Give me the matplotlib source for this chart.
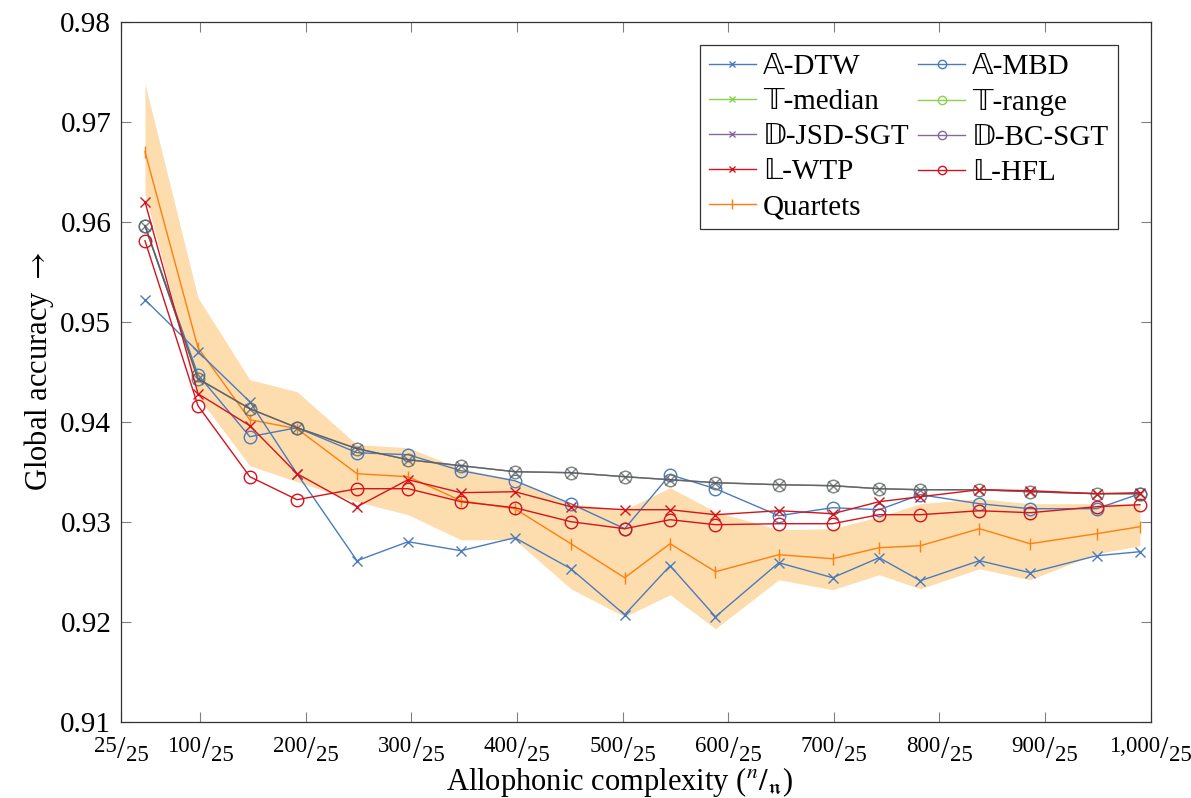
import matplotlib
matplotlib.use("Agg")
import matplotlib.pyplot as plt
import matplotlib.transforms as mtransforms
from matplotlib.lines import Line2D

plt.rcParams['font.family'] = ['Liberation Serif', 'DejaVu Sans']
plt.rcParams['mathtext.fontset'] = 'stix'

# ---- data -------------------------------------------------------------
n_values = [47.7, 97.9, 147, 191.7, 248.5, 296.9, 347, 398, 451, 502,
            545, 588, 648, 699, 743, 782, 838, 886, 949, 990]

a_dtw = [0.9522, 0.9470, 0.9420, 0.9348, 0.9261, 0.9280, 0.9271, 0.9284, 0.9253, 0.9207,
         0.9256, 0.9205, 0.9259, 0.9244, 0.9264, 0.9241, 0.9261, 0.9249, 0.9266, 0.9270]
a_mbd = [0.9596, 0.9447, 0.9385, 0.9394, 0.9369, 0.9367, 0.9351, 0.9341, 0.9318, 0.9293,
         0.9347, 0.9333, 0.9306, 0.9314, 0.9312, 0.9327, 0.9318, 0.9313, 0.9313, 0.9328]
t_median = [0.9596, 0.9443, 0.9413, 0.9394, 0.9373, 0.9362, 0.9356, 0.9350, 0.9349, 0.9345,
            0.9342, 0.9339, 0.9337, 0.9336, 0.9333, 0.9332, 0.9332, 0.9330, 0.9328, 0.9328]
t_range = [0.9596, 0.9443, 0.9413, 0.9394, 0.9373, 0.9362, 0.9356, 0.9350, 0.9349, 0.9345,
           0.9342, 0.9339, 0.9337, 0.9336, 0.9333, 0.9332, 0.9332, 0.9330, 0.9328, 0.9328]
d_jsd_sgt = [0.9596, 0.9443, 0.9413, 0.9394, 0.9373, 0.9362, 0.9356, 0.9350, 0.9349, 0.9345,
             0.9342, 0.9339, 0.9337, 0.9336, 0.9333, 0.9332, 0.9332, 0.9330, 0.9328, 0.9328]
d_bc_sgt = [0.9596, 0.9443, 0.9413, 0.9394, 0.9373, 0.9362, 0.9356, 0.9350, 0.9349, 0.9345,
            0.9342, 0.9339, 0.9337, 0.9336, 0.9333, 0.9332, 0.9332, 0.9330, 0.9328, 0.9328]
l_wtp = [0.9620, 0.9428, 0.9396, 0.9348, 0.9315, 0.9342, 0.9329, 0.9330, 0.9315, 0.9312,
         0.9312, 0.9307, 0.9311, 0.9308, 0.9320, 0.9325, 0.9332, 0.9331, 0.9328, 0.9329]
l_hfl = [0.9581, 0.9416, 0.9345, 0.9322, 0.9333, 0.9333, 0.9320, 0.9314, 0.9300, 0.9293,
         0.9302, 0.9297, 0.9298, 0.9298, 0.9307, 0.9307, 0.9311, 0.9309, 0.9315, 0.9317]
quartets = [0.9670, 0.9474, 0.9402, 0.9393, 0.9348, 0.9345, 0.9321, 0.9313, 0.9278, 0.9244,
            0.9278, 0.9250, 0.9267, 0.9263, 0.9274, 0.9276, 0.9293, 0.9278, 0.9288, 0.9295]
quartets_hi = [0.9738, 0.9524, 0.9442, 0.9430, 0.9377, 0.9374, 0.9353, 0.9342, 0.9318, 0.9312,
               0.9334, 0.9310, 0.9292, 0.9293, 0.9305, 0.9318, 0.9323, 0.9318, 0.9318, 0.9318]
quartets_lo = [0.9628, 0.9425, 0.9356, 0.9340, 0.9320, 0.9307, 0.9282, 0.9282, 0.9233, 0.9205,
               0.9227, 0.9193, 0.9242, 0.9232, 0.9247, 0.9233, 0.9253, 0.9242, 0.9268, 0.9276]

xtick_values = [25, 100, 200, 300, 400, 500, 600, 700, 800, 900, 1000]
xtick_numerators = ["25", "100", "200", "300", "400", "500", "600", "700", "800", "900", "1,000"]
xtick_denominator = "25"
ytick_values = [0.91, 0.92, 0.93, 0.94, 0.95, 0.96, 0.97, 0.98]

legend_labels = ["\U0001D538-DTW", "\U0001D54B-median", "\U0001D53B-JSD-SGT", "\U0001D543-WTP",
                 "Quartets",
                 "\U0001D538-MBD", "\U0001D54B-range", "\U0001D53B-BC-SGT", "\U0001D543-HFL"]

# ---- style ------------------------------------------------------------
BLUE = '#4a7cbd'
GREEN = '#86d24a'
PURPLE = '#85689f'
RED = '#d3141c'
ORANGE = '#ff7f0e'
BAND = '#fddcae'

fig = plt.figure(figsize=(11.91, 7.98), dpi=100)
ax = fig.add_axes([0.1016, 0.0956, 0.8644, 0.8772])

ax.fill_between(n_values, quartets_lo, quartets_hi, color=BAND, lw=0, zorder=1)

lw = 1.0
ms_x = 6.5
ms_o = 9
common = dict(lw=lw, zorder=3, mew=1.0)

ax.plot(n_values, quartets, color=ORANGE, marker='|', ms=8, **common)
ax.plot(n_values, a_dtw, color=BLUE, marker='x', ms=ms_x, **common)
ax.plot(n_values, a_mbd, color=BLUE, marker='o', ms=ms_o, mfc='none', **common)
ax.plot(n_values, t_median, color='#78c83c', marker='x', ms=ms_x, alpha=0.5, **common)
ax.plot(n_values, t_range, color='#78c83c', marker='o', ms=ms_o, mfc='none', alpha=0.5, **common)
ax.plot(n_values, d_jsd_sgt, color='#5e4a78', marker='x', ms=ms_x, alpha=0.6, **common)
ax.plot(n_values, d_bc_sgt, color='#5e4a78', marker='o', ms=ms_o, mfc='none', alpha=0.6, **common)
ax.plot(n_values, l_wtp, color=RED, marker='x', ms=ms_x, **common)
ax.plot(n_values, l_hfl, color=RED, marker='o', ms=ms_o, mfc='none', **common)

ax.set_xlim(25, 1000)
ax.set_ylim(0.91, 0.98)
ax.set_yticks(ytick_values)
ax.set_yticklabels([f"{v:.2f}" for v in ytick_values])
ax.set_xticks(xtick_values)
ax.set_xticklabels([])

ax.tick_params(axis='both', which='major', direction='in', length=7, width=0.8,
               color='#808080', top=True, right=True)
ax.tick_params(axis='y', labelsize=21, pad=7)
for s in ax.spines.values():
    s.set_linewidth(0.9)
    s.set_color('#333333')

# nicefrac-style x tick labels
fig.canvas.draw()
renderer = fig.canvas.get_renderer()
base = mtransforms.blended_transform_factory(ax.transData, ax.transAxes)
FS_NUM = 16.5
FS_SLASH = 22
for t, num in zip(xtick_values, xtick_numerators):
    tn = ax.text(t, 0, num, fontsize=FS_NUM, ha='left', va='baseline', transform=base, clip_on=False)
    ts = ax.text(t, 0, "/", fontsize=FS_SLASH, ha='left', va='baseline', transform=base, clip_on=False)
    td = ax.text(t, 0, xtick_denominator, fontsize=FS_NUM, ha='left', va='baseline', transform=base,
                 clip_on=False)
    wn = tn.get_window_extent(renderer).width
    ws = ts.get_window_extent(renderer).width
    wd = td.get_window_extent(renderer).width
    gap = 0.5
    total = wn + ws + wd + 2 * gap
    left = -total / 2
    tn.set_transform(mtransforms.offset_copy(base, fig=fig, x=left, y=-30, units='dots'))
    ts.set_transform(mtransforms.offset_copy(base, fig=fig, x=left + wn + gap, y=-36, units='dots'))
    td.set_transform(mtransforms.offset_copy(base, fig=fig, x=left + wn + ws + 2 * gap, y=-39,
                                             units='dots'))

fig.text(0.5 * (432 + 808) / 1191, 1 - 790 / 798,
         r"Allophonic complexity (${}^{n}/{}_{\mathfrak{n}}$)",
         fontsize=22, ha='center', va='baseline')
ax.set_ylabel(r"Global accuracy $\rightarrow$", fontsize=22, labelpad=3)

# legend (proxy handles with the series colours)
def h(color, marker, ms):
    return Line2D([], [], color=color, lw=1.0, marker=marker, ms=ms,
                  mfc='none' if marker == 'o' else color, mew=1.0)

handles = [h(BLUE, 'x', 5), h(GREEN, 'x', 5), h(PURPLE, 'x', 5), h(RED, 'x', 5), h(ORANGE, '|', 7),
           h(BLUE, 'o', 6), h(GREEN, 'o', 6), h(PURPLE, 'o', 6), h(RED, 'o', 6)]
leg = ax.legend(handles, legend_labels, ncol=2, loc='upper right', bbox_to_anchor=(0.9685, 0.967),
                fontsize=21, frameon=True, fancybox=False, framealpha=1, edgecolor='#333333',
                handlelength=1.6, handletextpad=0.25, columnspacing=0.3, labelspacing=0.3,
                borderpad=0.3, borderaxespad=0)
leg.get_frame().set_linewidth(0.9)

fig.savefig("out.png", dpi=100)
